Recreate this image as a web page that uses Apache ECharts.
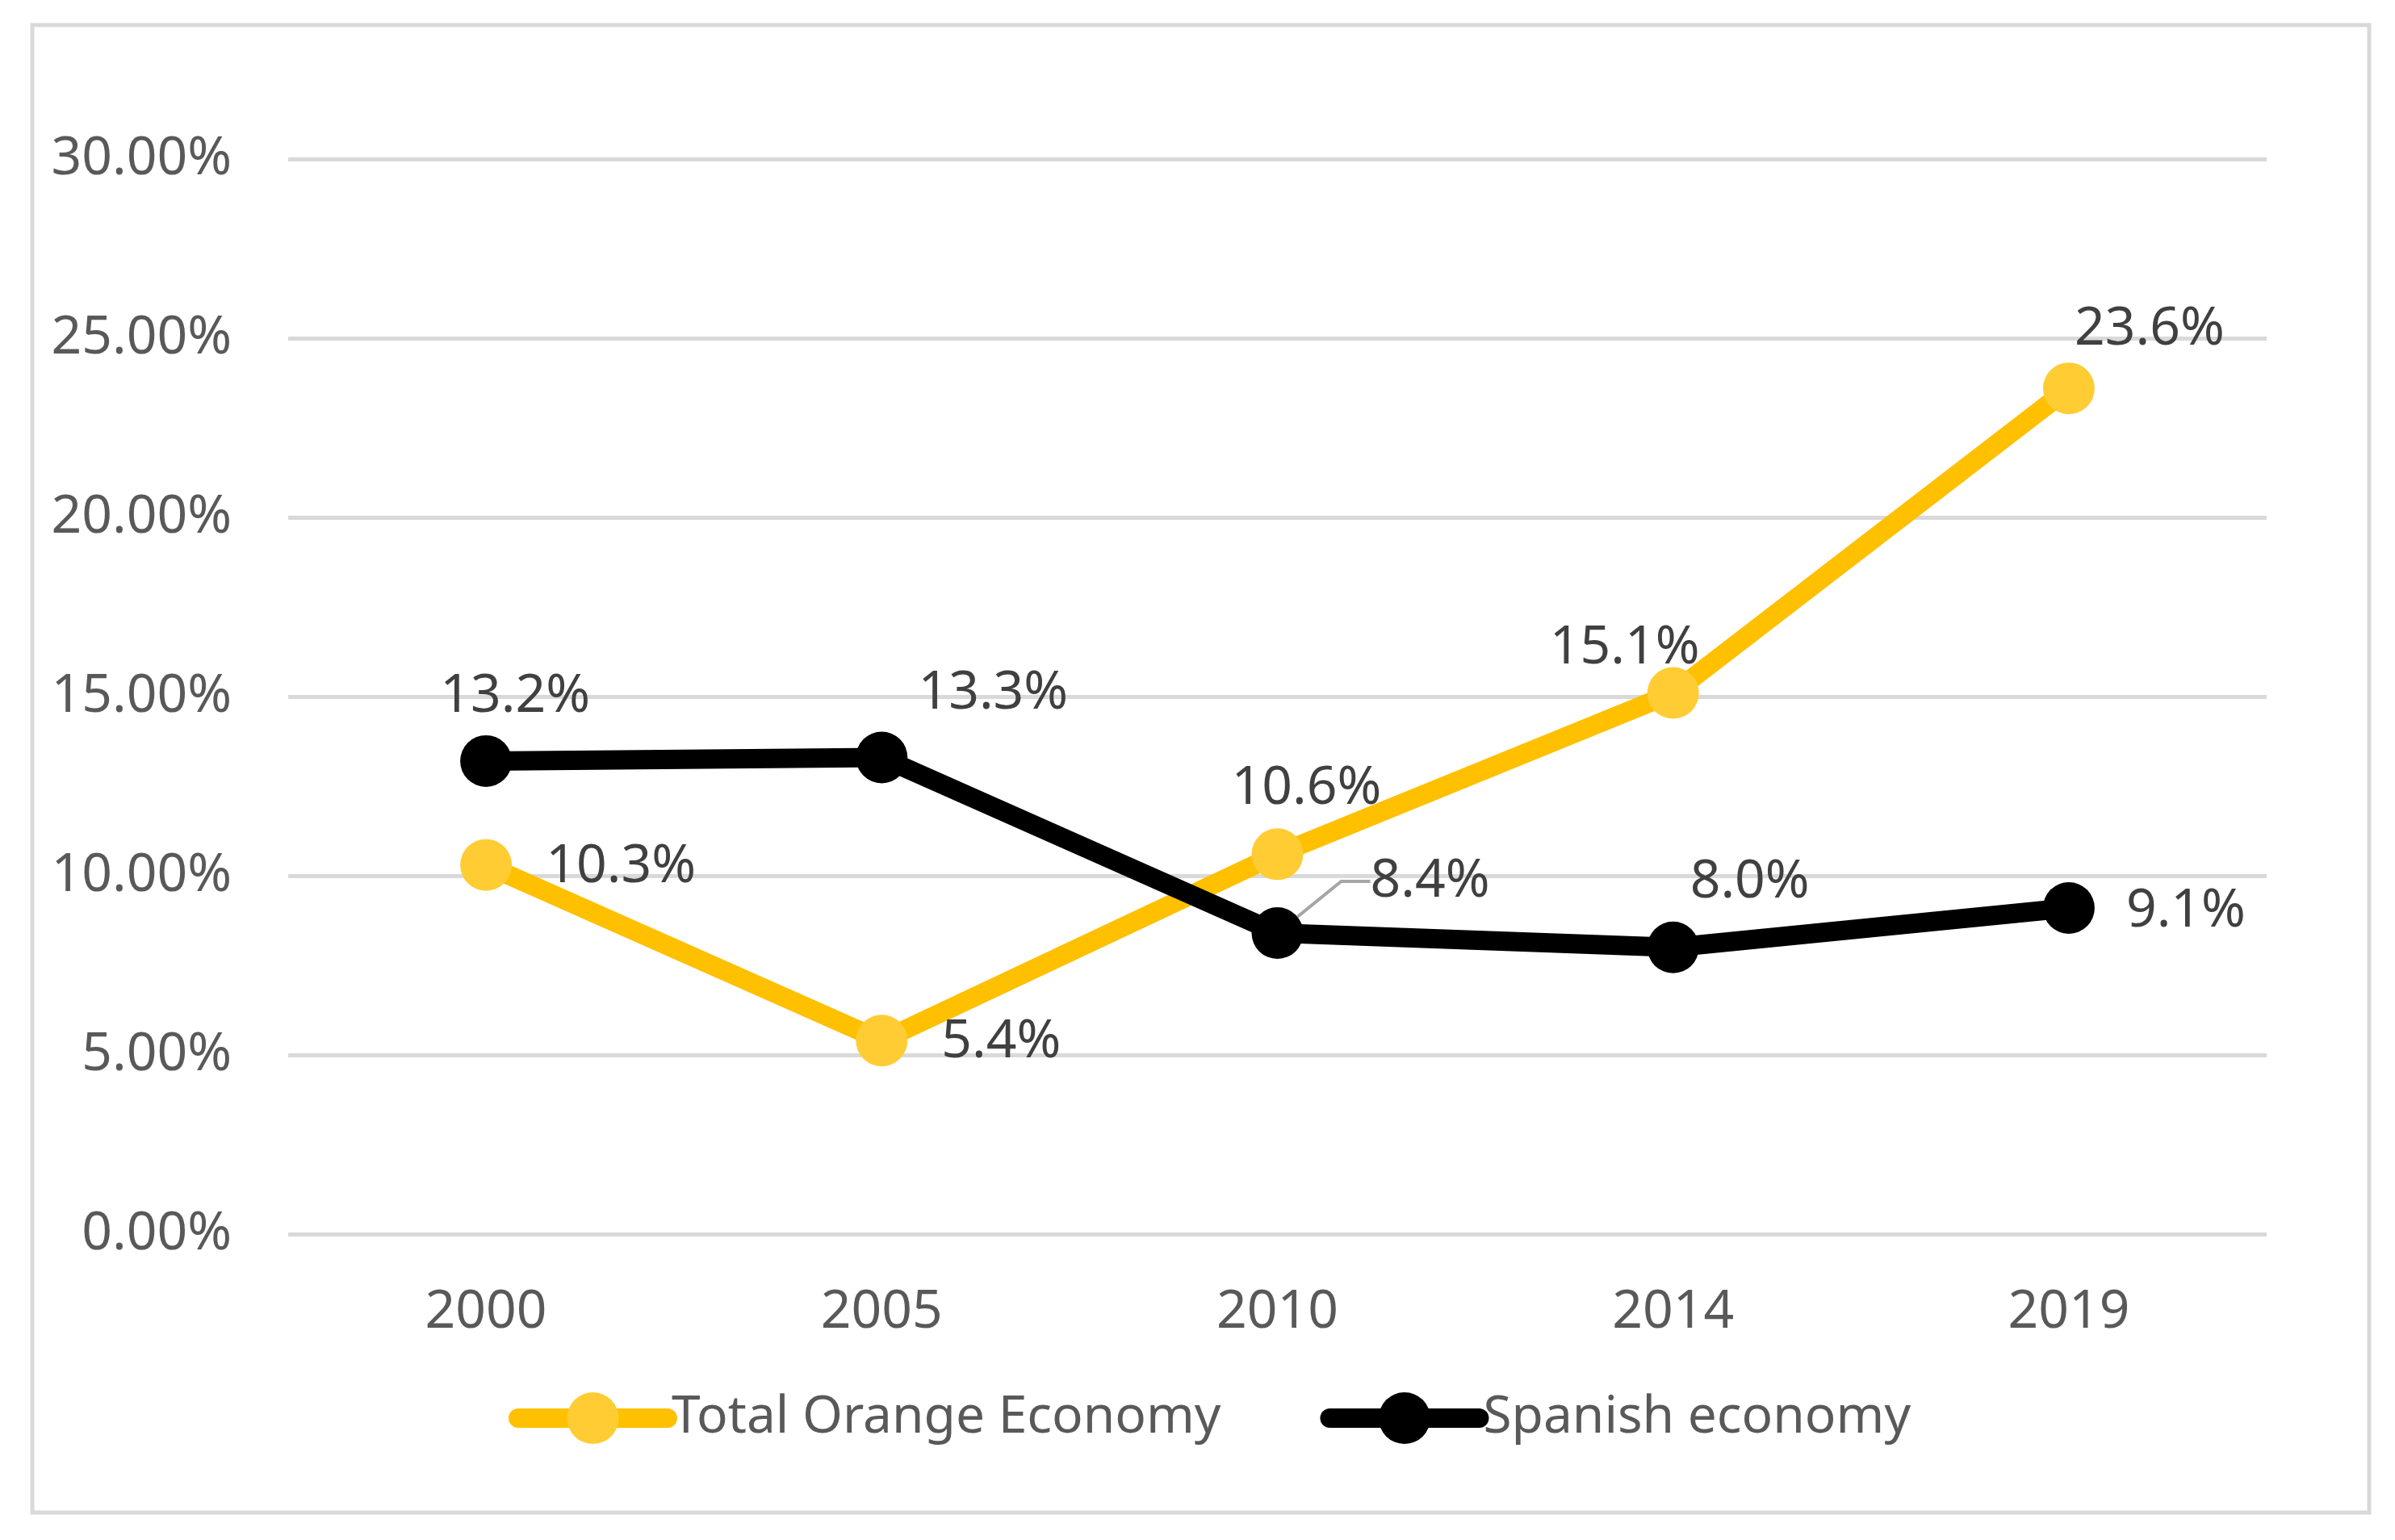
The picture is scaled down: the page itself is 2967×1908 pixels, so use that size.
<!DOCTYPE html>
<html>
<head>
<meta charset="utf-8">
<script src="https://cdn.jsdelivr.net/npm/echarts@6/dist/echarts.min.js"></script>
<style>
html,body{margin:0;padding:0;background:#fff;}
#c{width:2967px;height:1908px;}
</style>
</head>
<body>
<div id="c"></div>
<script>
// ---- data ----
var years = ['2000', '2005', '2010', '2014', '2019'];
var orangeEconomy = [10.3, 5.4, 10.6, 15.1, 23.6];
var spanishEconomy = [13.2, 13.3, 8.4, 8.0, 9.1];
var seriesNames = ['Total Orange Economy', 'Spanish economy'];
var yTicks = [0, 5, 10, 15, 20, 25, 30];

// label placement (pixel offsets from point centre)
var orangeLabelOffsets = [[167, 3], [148, 2], [36, -81], [-60, -55], [100, -73]];
var spanishLabelOffsets = [[36, -80], [138, -79], [189, -64], [95, -81], [145, 4]];

var FONT = 'Noto Sans';
var FS = 66;

function buildData(values, offsets, leaderIdx) {
  return values.map(function (v, i) {
    var item = {
      value: v,
      label: {
        show: true,
        position: 'inside',
        align: 'center',
        verticalAlign: 'middle',
        offset: offsets[i],
        formatter: function (p) { return p.value.toFixed(1) + '%'; },
        color: '#404040',
        fontSize: FS,
        fontFamily: FONT
      }
    };
    if (i === leaderIdx) {
      item.labelLine = { show: true, length2: 36, lineStyle: { color: '#A6A6A6', width: 4 } };
    }
    return item;
  });
}

var chart = echarts.init(document.getElementById('c'), null, { renderer: 'canvas' });
var option = {
  animation: false,
  backgroundColor: '#ffffff',
  graphic: [{
    type: 'rect',
    shape: { x: 40, y: 31, width: 2895, height: 1843 },
    style: { fill: 'none', stroke: '#D9D9D9', lineWidth: 5 },
    silent: true
  }],
  grid: { left: 357, right: 159, top: 197, bottom: 379 },
  legend: {
    left: 630,
    top: 1725,
    padding: 0,
    itemWidth: 185,
    itemHeight: 80,
    itemGap: 123,
    data: seriesNames,
    lineStyle: { width: 24, cap: 'round' },
    textStyle: { color: '#595959', fontSize: 64, fontFamily: FONT }
  },
  xAxis: {
    type: 'category',
    data: years,
    boundaryGap: true,
    axisLine: { show: false },
    axisTick: { show: false },
    axisLabel: { color: '#595959', fontSize: FS, fontFamily: FONT, margin: 64 }
  },
  yAxis: {
    type: 'value',
    min: yTicks[0],
    max: yTicks[yTicks.length - 1],
    interval: 5,
    axisLine: { show: false },
    axisTick: { show: false },
    splitLine: { lineStyle: { color: '#D9D9D9', width: 5 } },
    axisLabel: {
      color: '#595959', fontSize: FS, fontFamily: FONT, margin: 70,
      formatter: function (v) { return v.toFixed(2) + '%'; }
    }
  },
  series: [
    {
      name: seriesNames[0],
      type: 'line',
      data: buildData(orangeEconomy, orangeLabelOffsets, -1),
      symbol: 'circle',
      symbolSize: 64,
      lineStyle: { color: '#FFC000', width: 24, cap: 'round', join: 'round' },
      itemStyle: { color: '#FFCD33' }
    },
    {
      name: seriesNames[1],
      type: 'line',
      data: buildData(spanishEconomy, spanishLabelOffsets, 2),
      symbol: 'circle',
      symbolSize: 64,
      lineStyle: { color: '#000000', width: 24, cap: 'round', join: 'round' },
      itemStyle: { color: '#000000' }
    }
  ]
};
chart.setOption(option);
</script>
</body>
</html>
